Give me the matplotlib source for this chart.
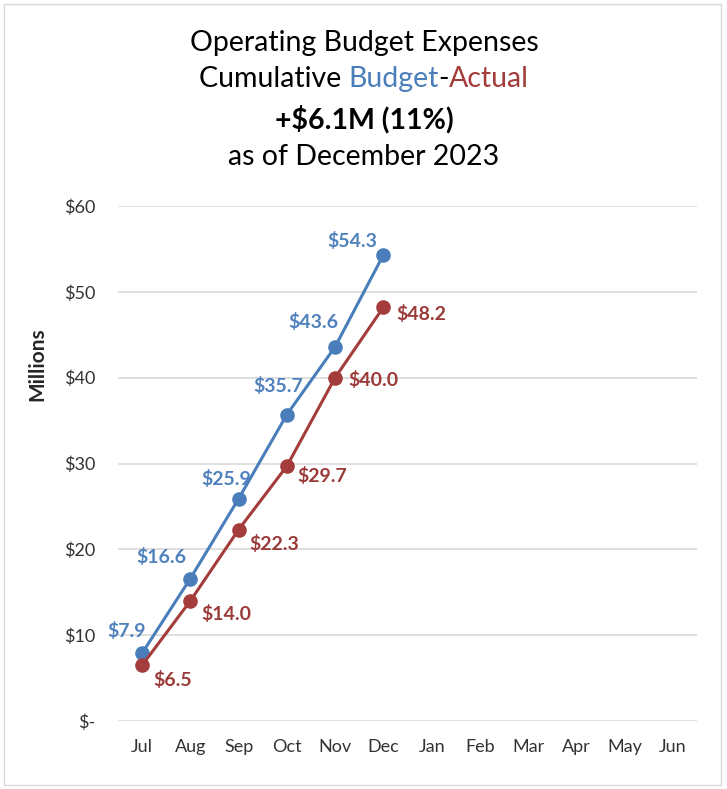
import matplotlib
matplotlib.use("Agg")
import matplotlib.pyplot as plt
from matplotlib.patches import Rectangle

plt.rcParams['font.family'] = ['Lato', 'DejaVu Sans']

months = ["Jul", "Aug", "Sep", "Oct", "Nov", "Dec", "Jan", "Feb", "Mar", "Apr", "May", "Jun"]
budget = [7.9, 16.6, 25.9, 35.7, 43.6, 54.3]
actual = [6.5, 14.0, 22.3, 29.7, 40.0, 48.2]
yticks = [0, 10, 20, 30, 40, 50, 60]
ytick_labels = ["$-", "$10", "$20", "$30", "$40", "$50", "$60"]

# label offsets in pixels (dx, dy)
budget_offsets = [(-16, 22), (-29, 22), (-12, 20), (-9, 29), (-22, 25), (-31, 14)]
actual_offsets = [(31, -15), (36, -13), (36, -14), (35, -10), (38, -2), (38, -7)]

BLUE = "#4A7EBB"
BLUE_TXT = "#4F81BD"
RED = "#A33C3A"
RED_TXT = "#9B3B39"

W, H = 727, 789
fig = plt.figure(figsize=(W / 100, H / 100), dpi=100)
fig.patch.set_facecolor("white")

ax = fig.add_axes([118 / W, 1 - 721 / H, (697 - 118) / W, (721 - 206) / H])
x = list(range(len(months)))
ax.set_xlim(-0.5, 11.5)
ax.set_ylim(0, 60)
ax.set_yticks(yticks)
ax.set_yticklabels(ytick_labels)
ax.set_xticks(x)
ax.set_xticklabels(months)
for s in ax.spines.values():
    s.set_visible(False)
ax.tick_params(length=0)
ax.tick_params(axis='y', pad=16, labelsize=13, labelcolor="#333333")
ax.tick_params(axis='x', pad=13, labelsize=13, labelcolor="#333333")
ax.grid(axis='y', color="#D9D9D9", linewidth=1.2)
ax.set_axisbelow(True)

ax.plot(x[:len(budget)], budget, color=BLUE, lw=2.2, marker='o', ms=9.5, zorder=3, clip_on=False)
ax.plot(x[:len(actual)], actual, color=RED, lw=2.2, marker='o', ms=9.5, zorder=3, clip_on=False)

for i, v in enumerate(budget):
    dx, dy = budget_offsets[i]
    ax.annotate(f"${v:.1f}", (i, v), xytext=(dx, dy), textcoords='offset pixels',
                ha='center', va='center', color=BLUE_TXT, fontsize=14, fontweight='bold')
for i, v in enumerate(actual):
    dx, dy = actual_offsets[i]
    ax.annotate(f"${v:.1f}", (i, v), xytext=(dx, dy), textcoords='offset pixels',
                ha='center', va='center', color=RED_TXT, fontsize=14, fontweight='bold')

fig.text(37 / W, 1 - 364 / H, "Millions", rotation=90, ha='center', va='center',
         fontsize=15, fontweight='bold', color="#262626")

# titles
TS = 20.5
cx = 364 / W
fig.text(cx, 1 - 43 / H, "Operating Budget Expenses", ha='center', va='center', fontsize=TS, color="black")
fig.text(cx, 1 - 119 / H, "+$6.1M (11%)", ha='center', va='center', fontsize=TS, fontweight='bold', color="black")
fig.text(cx, 1 - 157 / H, "as of December 2023", ha='center', va='center', fontsize=TS, color="black")

parts = [("Cumulative ", "black"), ("Budget", BLUE), ("-", "black"), ("Actual", RED)]
full = "".join(p for p, _ in parts)
r = fig.canvas.get_renderer()
measure = fig.text(0, 0, full, fontsize=TS)
total = measure.get_window_extent(renderer=r).width
prefix_w = []
acc = ""
for p, _ in parts:
    if acc:
        measure.set_text(acc)
        prefix_w.append(measure.get_window_extent(renderer=r).width)
    else:
        prefix_w.append(0.0)
    acc += p
measure.remove()
start = cx * W - total / 2
for (p, c), w0 in zip(parts, prefix_w):
    fig.text((start + w0) / W, 1 - 79 / H, p, ha='left', va='center', fontsize=TS, color=c)

fig.patches.append(Rectangle((4 / W, 4 / H), (721 - 4) / W, (785 - 4) / H, transform=fig.transFigure,
                             fill=False, edgecolor="#D9D9D9", linewidth=1.0))

fig.savefig("out.png", dpi=100)
